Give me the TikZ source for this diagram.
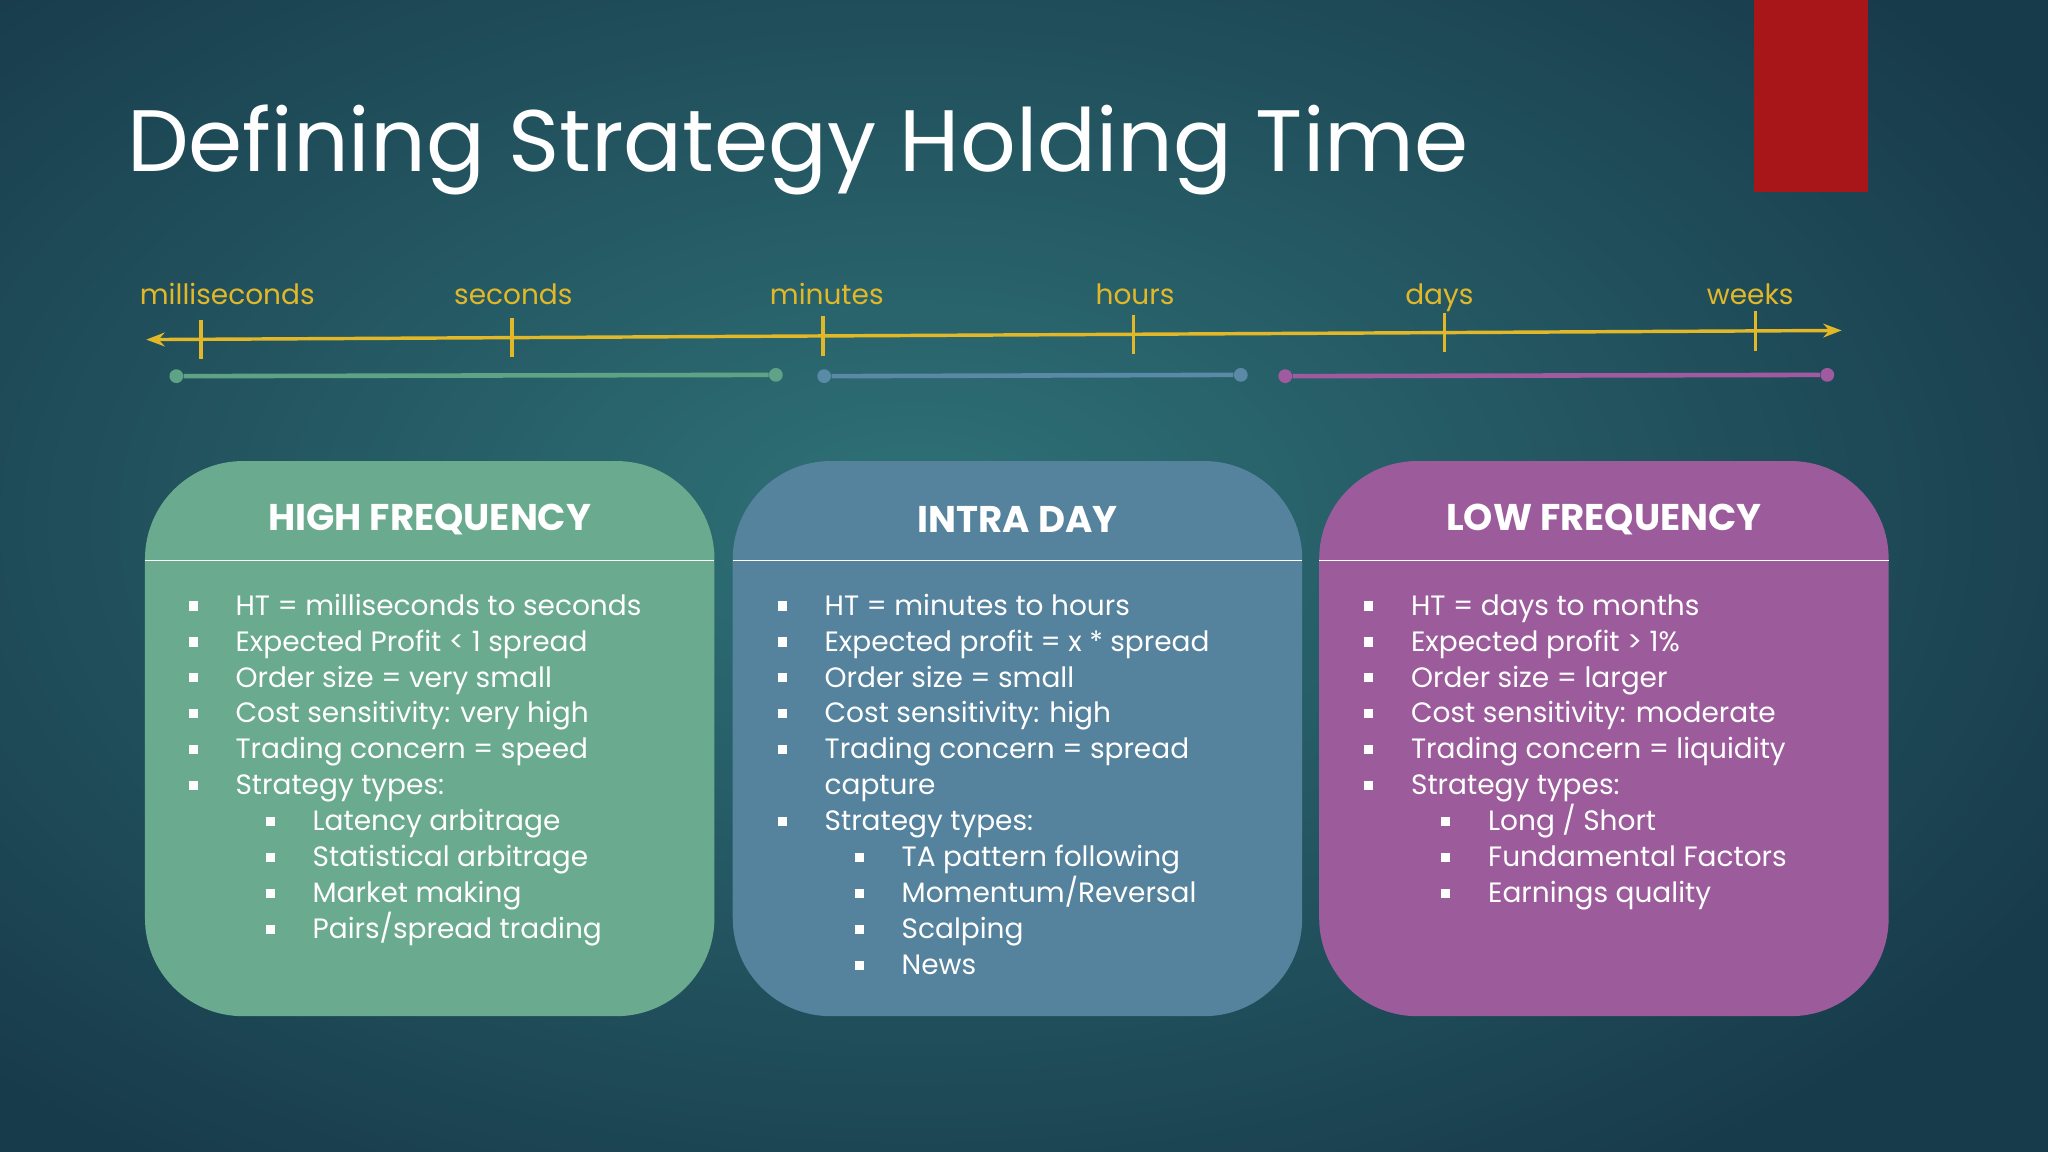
\documentclass[tikz,border=0pt]{standalone}
\usepackage{fontspec}
\setmainfont{Poppins}
\usetikzlibrary{arrows.meta}
\definecolor{bgin}{HTML}{2F7278}
\definecolor{bgout}{HTML}{183B4B}
\definecolor{tl}{HTML}{E3B828}
\definecolor{hf}{HTML}{6AAA8E}
\definecolor{idc}{HTML}{55829C}
\definecolor{lf}{HTML}{9C5C9C}
\definecolor{hfl}{HTML}{5FA387}
\definecolor{idl}{HTML}{5A8AA6}
\definecolor{lfl}{HTML}{A05AA0}
\definecolor{redr}{HTML}{A8161A}
\tikzset{
 tick/.style={tl,line width=1.5pt},
 tlab/.style={text=tl,font=\fontsize{12.2}{15}\selectfont,anchor=base,inner sep=0pt},
 panel/.style={rounded corners=1.5cm,draw=none},
 head/.style={text=white,font=\bfseries\fontsize{16.2}{20}\selectfont},
 item/.style={text=white,anchor=base west,font=\fontsize{12.2}{15}\selectfont,inner sep=0pt},
 bul/.style={fill=white,minimum size=4pt,inner sep=0pt},
 bar/.style={line width=2pt},
 dot/.style={circle,inner sep=0pt,minimum size=6pt}
}
\begin{document}
\begin{tikzpicture}[x=0.02cm,y=-0.02cm]
\useasboundingbox (0,0) rectangle (1568,882);
\begin{scope}
\clip (0,0) rectangle (1568,882);
\shade[inner color=bgin,outer color=bgout] (-300,-200) rectangle (1700,1000);
\end{scope}
\fill[redr] (1343,0) rectangle (1430,147);
\node[text=white,anchor=base west,font=\fontsize{38}{42}\selectfont,inner sep=0pt] (title) at (97,131) {Defining Strategy Holding Time};
% timeline
\coordinate (tA) at (112,260); \coordinate (tB) at (1410,253);
\draw[tl,line width=1.5pt,{Stealth[length=8pt]}-{Stealth[length=8pt]}] (tA) -- (tB);
\foreach \x/\o/\t [count=\i] in {154/20/milliseconds,392/1/seconds,630/3/minutes,868/1/hours,1106/-4/days,1344/-4/weeks}{
  \pgfmathsetmacro\yy{260-7*(\x-112)/1298}
  \draw[tick] (\x,\yy-15) -- (\x,\yy+15);
  \node[tlab] (lab\i) at (\x+\o,233) {\t};
}
% bars
\foreach \a/\b/\c/\n in {135/594/hfl/h,631/950/idl/i,984/1399/lfl/l}{
 \node[dot,fill=\c] (\n1) at (\a,288) {};
 \node[dot,fill=\c] (\n2) at (\b,287) {};
 \draw[bar,\c] (\n1) -- (\n2);
}
% panels
\foreach \x/\c/\t/\n in {111/hf/HIGH FREQUENCY/p1,561/idc/INTRA DAY/p2,1010/lf/LOW FREQUENCY/p3}{
 \fill[\c,panel] (\x,353) rectangle (\x+436,778);
 \draw[white,line width=0.6pt] (\x,429) -- (\x+436,429);
 \node[head] (\n) at (\x+218,398) {\t};
}
% items
\newcommand{\itm}[3]{\node[bul] at (#1,#2) {}; \node[item] at (#1+32,#2+7) {#3};}
\newcommand{\sitm}[3]{\node[bul] at (#1+59,#2) {}; \node[item] at (#1+91,#2+7) {#3};}
\itm{148}{464}{HT = milliseconds to seconds}
\itm{148}{491.5}{Expected Profit < 1 spread}
\itm{148}{519}{Order size = very small}
\itm{148}{546.5}{Cost sensitivity: very high}
\itm{148}{574}{Trading concern = speed}
\itm{148}{601.5}{Strategy types:}
\sitm{148}{629}{Latency arbitrage}
\sitm{148}{656.5}{Statistical arbitrage}
\sitm{148}{684}{Market making}
\sitm{148}{711.5}{Pairs/spread trading}
%
\itm{599}{464}{HT = minutes to hours}
\itm{599}{491.5}{Expected profit = x * spread}
\itm{599}{519}{Order size = small}
\itm{599}{546.5}{Cost sensitivity: high}
\itm{599}{574}{Trading concern = spread}
\node[item] at (631,608.5) {capture};
\itm{599}{629}{Strategy types:}
\sitm{599}{656.5}{TA pattern following}
\sitm{599}{684}{Momentum/Reversal}
\sitm{599}{711.5}{Scalping}
\sitm{599}{739}{News}
%
\itm{1048}{464}{HT = days to months}
\itm{1048}{491.5}{Expected profit > 1\%}
\itm{1048}{519}{Order size = larger}
\itm{1048}{546.5}{Cost sensitivity: moderate}
\itm{1048}{574}{Trading concern = liquidity}
\itm{1048}{601.5}{Strategy types:}
\sitm{1048}{629}{Long / Short}
\sitm{1048}{656.5}{Fundamental Factors}
\sitm{1048}{684}{Earnings quality}
\end{tikzpicture}
\end{document}
